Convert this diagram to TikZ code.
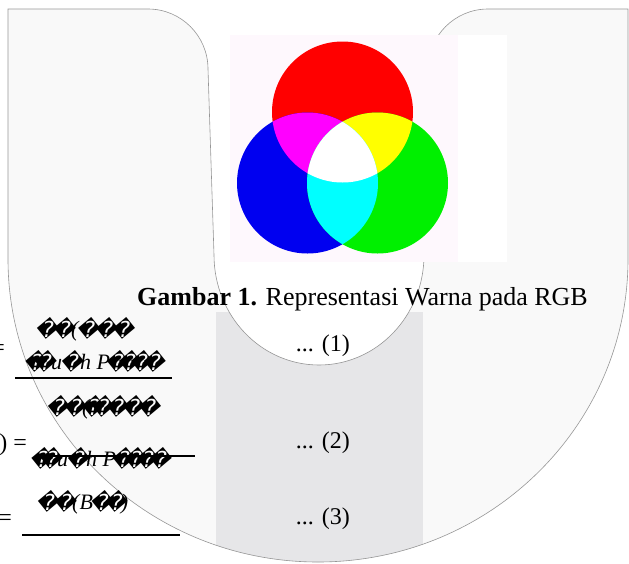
\documentclass[tikz,border=0pt]{standalone}
\usepackage{fontspec}
\setmainfont{Liberation Serif}
\newfontfamily\dejavu{DejaVu Sans}

\definecolor{panelgray}{RGB}{249,249,249}
\definecolor{stripgray}{RGB}{230,230,232}
\definecolor{edgegray}{RGB}{150,150,150}
\definecolor{picpink}{RGB}{254,248,253}
\definecolor{rgbred}{RGB}{255,0,0}
\definecolor{rgbblue}{RGB}{0,0,240}
\definecolor{rgbgreen}{RGB}{0,240,0}
\definecolor{rgbmagenta}{RGB}{255,0,255}
\definecolor{rgbyellow}{RGB}{255,255,0}
\definecolor{rgbcyan}{RGB}{0,255,255}

% broken glyph as it comes out of the pdf
\newcommand\rpl[1][16pt]{\makebox[#1]{\raisebox{-1.5pt}{\dejavu\fontsize{22}{22}\selectfont �}}}

% outline of the u-shaped panel
\def\panelpath{(8,9) -- (148,9) arc[start angle=-90, end angle=0, radius=60]
  -- (214,255) arc[start angle=180, end angle=0, x radius=105, y radius=110]
  -- (428,69) arc[start angle=180, end angle=270, radius=60]
  -- (628,9) -- (628,259) arc[start angle=0, end angle=180, x radius=310, y radius=303]
  -- cycle}

\tikzset{
  caption/.style={inner sep=0pt, anchor=base west, font=\fontsize{26}{30}\selectfont},
  eqnum/.style={inner sep=0pt, anchor=base east, font=\fontsize{24}{28}\selectfont},
  eqpart/.style={inner sep=0pt, anchor=base west, font=\fontsize{22}{24}\selectfont\itshape},
  eqsign/.style={inner sep=0pt, anchor=base east, font=\fontsize{24}{28}\selectfont},
  fracbar/.style={line width=1.6pt},
}

\begin{document}
\begin{tikzpicture}[x=1pt,y=-1pt]
    \useasboundingbox (0,0) rectangle (629,563);

    \begin{scope}
        \clip \panelpath;
        \fill[panelgray] (0,0) rectangle (629,563);
        \fill[stripgray] (216,312) rectangle (423,563);
    \end{scope}
    \draw[edgegray, line width=0.6pt] \panelpath;

    % rgb picture
    \fill[white] (230,35) rectangle (507,262);
    \fill[picpink] (230,35) rectangle (458,262);
    \coordinate (redc) at (342.5,112);
    \coordinate (bluec) at (307.5,183);
    \coordinate (greenc) at (377.5,183);
    \fill[rgbred] (redc) circle[radius=70.5];
    \fill[rgbblue] (bluec) circle[radius=70.5];
    \fill[rgbgreen] (greenc) circle[radius=70.5];
    \begin{scope}
        \clip (redc) circle[radius=70.5];
        \fill[rgbmagenta] (bluec) circle[radius=70.5];
        \fill[rgbyellow] (greenc) circle[radius=70.5];
    \end{scope}
    \begin{scope}
        \clip (bluec) circle[radius=70.5];
        \fill[rgbcyan] (greenc) circle[radius=70.5];
        \clip (redc) circle[radius=70.5];
        \fill[white] (greenc) circle[radius=70.5];
    \end{scope}

    \node[caption] (cap) at (137,305) {\bfseries Gambar 1.\mdseries{} Representasi Warna pada RGB};

    % equations
    \node[eqsign] (eq1) at (5,355) {=};
    \node[eqpart] (num1) at (37,336) {\rpl[18pt]\rpl[16pt](\rpl[18pt]\rpl[18pt]\rpl};
    \node[eqpart] (den1) at (32,369) {\rpl[5pt]\rpl[14pt]u\rpl[18pt]h P\rpl[12pt]\rpl[12pt]\rpl[12pt]\rpl[14pt]};
    \draw[fracbar] (15,378) -- (172,378);
    \node[eqnum] (no1) at (350,351) {... (1)};

    \node[eqsign] (eq2) at (27,450) {) =};
    \node[eqpart] (num2) at (48,414) {\rpl[18pt]\rpl[16pt](\rpl[5pt]\rpl[14pt]\rpl[16pt]\rpl[16pt]\rpl};
    \node[eqpart] (den2) at (38,466) {\rpl[5pt]\rpl[14pt]u\rpl[18pt]h P\rpl[12pt]\rpl[12pt]\rpl[12pt]\rpl[14pt]};
    \draw[fracbar] (38,456) -- (195,456);
    \node[eqnum] (no2) at (350,448) {... (2)};

    \node[eqsign] (eq3) at (12,525) {=};
    \node[eqpart] (num3) at (38,509) {\rpl[18pt]\rpl[16pt](B\rpl[16pt]\rpl[12pt])};
    \draw[fracbar] (22,535) -- (180,535);
    \node[eqnum] (no3) at (350,524) {... (3)};
\end{tikzpicture}
\end{document}
